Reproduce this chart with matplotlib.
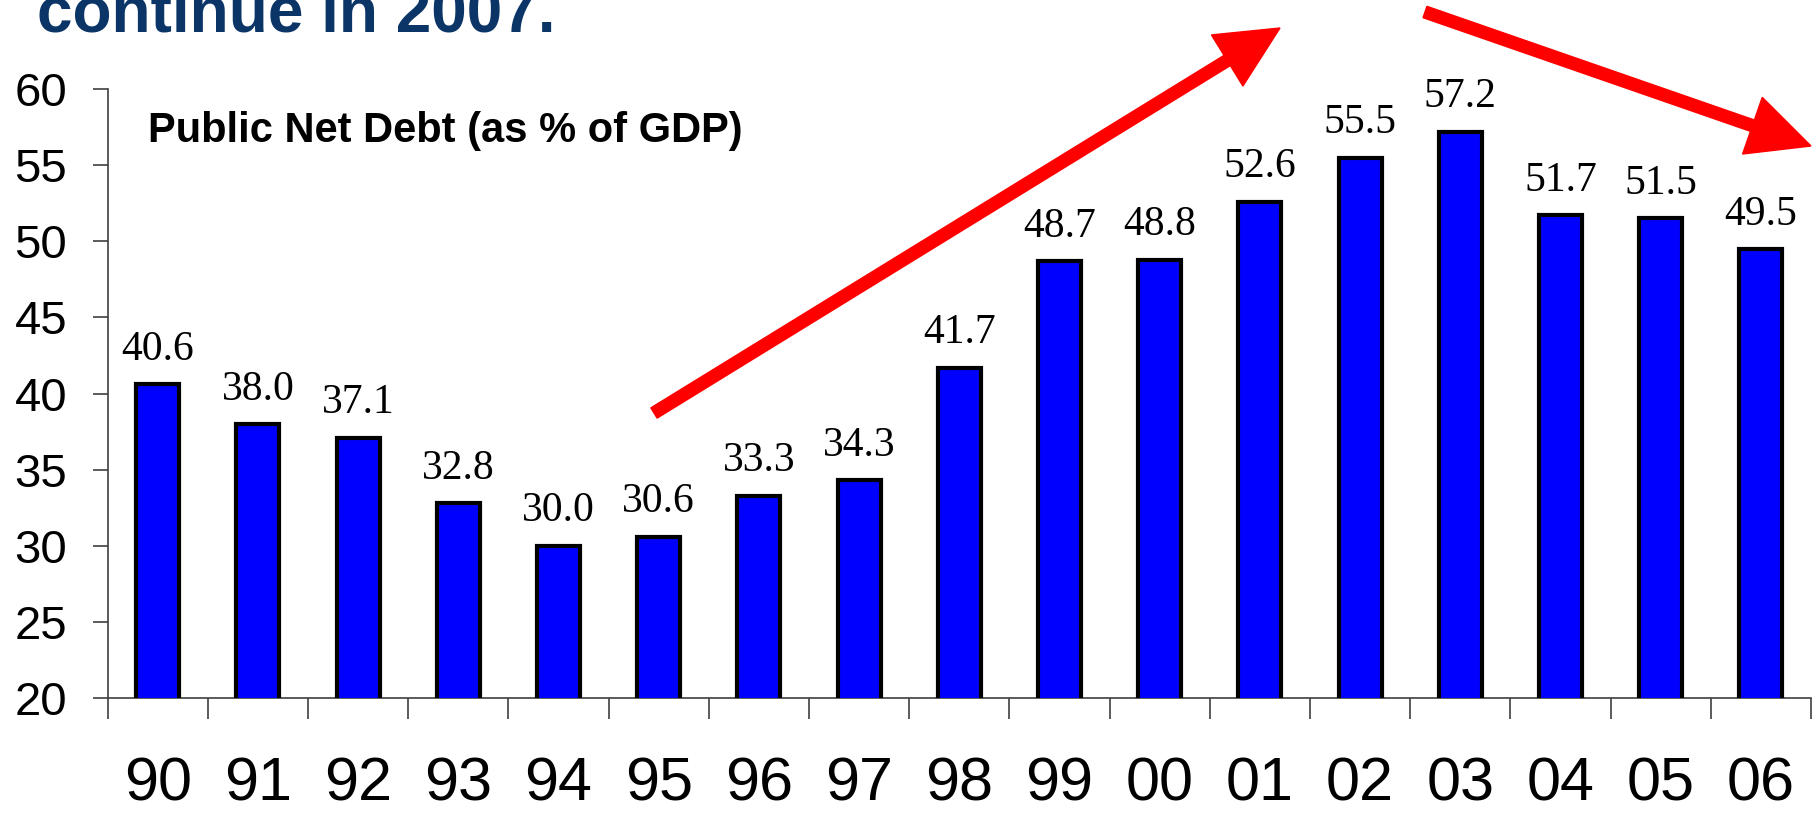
import matplotlib.pyplot as plt
from matplotlib.patches import FancyArrow
from matplotlib.transforms import IdentityTransform
import numpy as np

years = ["90", "91", "92", "93", "94", "95", "96", "97", "98", "99",
         "00", "01", "02", "03", "04", "05", "06"]
debt = [40.6, 38.0, 37.1, 32.8, 30.0, 30.6, 33.3, 34.3, 41.7, 48.7,
        48.8, 52.6, 55.5, 57.2, 51.7, 51.5, 49.5]
yticks = [20, 25, 30, 35, 40, 45, 50, 55, 60]

W, H = 1814, 813
fig = plt.figure(figsize=(W / 100, H / 100), dpi=100)
ax = fig.add_axes([107.6 / W, 1 - 698 / H, (1811 - 107.6) / W, (698 - 89) / H])

x = np.arange(len(years))
ax.bar(x, debt, width=0.43, bottom=0, color="#0000FF", edgecolor="black",
       linewidth=3, zorder=3)
ax.set_ylim(20, 60)
ax.set_xlim(-0.5, len(years) - 0.5)

for xi, v in zip(x, debt):
    ax.annotate(f"{v:.1f}", (xi, v), xytext=(0, 11), textcoords="offset points",
                ha="center", va="bottom", fontsize=30,
                family="Liberation Serif", color="black")

ax.set_yticks(yticks)
ax.set_yticklabels([str(t) for t in yticks], family="Liberation Sans", fontsize=34)
ax.tick_params(axis="y", length=11, width=1.2, color="#404040", pad=18)

ax.set_xticks(x)
ax.set_xticklabels(years, family="Liberation Sans", fontsize=44)
ax.set_xticks(np.arange(-0.5, len(years), 1.0), minor=True)
ax.tick_params(axis="x", which="major", length=0, pad=42)
ax.tick_params(axis="x", which="minor", length=15, width=1.2, color="#404040")

for s in ["top", "right"]:
    ax.spines[s].set_visible(False)
for s in ["left", "bottom"]:
    ax.spines[s].set_color("#404040")
    ax.spines[s].set_linewidth(1.2)

ax.text(148 / W, 1 - 131 / H, "Public Net Debt (as % of GDP)", transform=fig.transFigure,
        fontsize=30, fontweight="bold", family="Liberation Sans", va="center", ha="left")

fig.text(37 / W, 1 - 32 / H, "continue in 2007.", fontsize=46, fontweight="bold",
         family="Liberation Sans", color="#0B3566", va="baseline", ha="left")

# red trend arrows (figure pixels, origin bottom-left)
for (x0, y0), (x1, y1) in [((654, 413), (1280, 28)), ((1425, 12), (1811, 146))]:
    arr = FancyArrow(x0, H - y0, x1 - x0, (H - y1) - (H - y0), width=12,
                     head_width=60, head_length=62, length_includes_head=True,
                     color="#FF0000", transform=IdentityTransform())
    fig.add_artist(arr)

fig.savefig("out.png", dpi=100)
